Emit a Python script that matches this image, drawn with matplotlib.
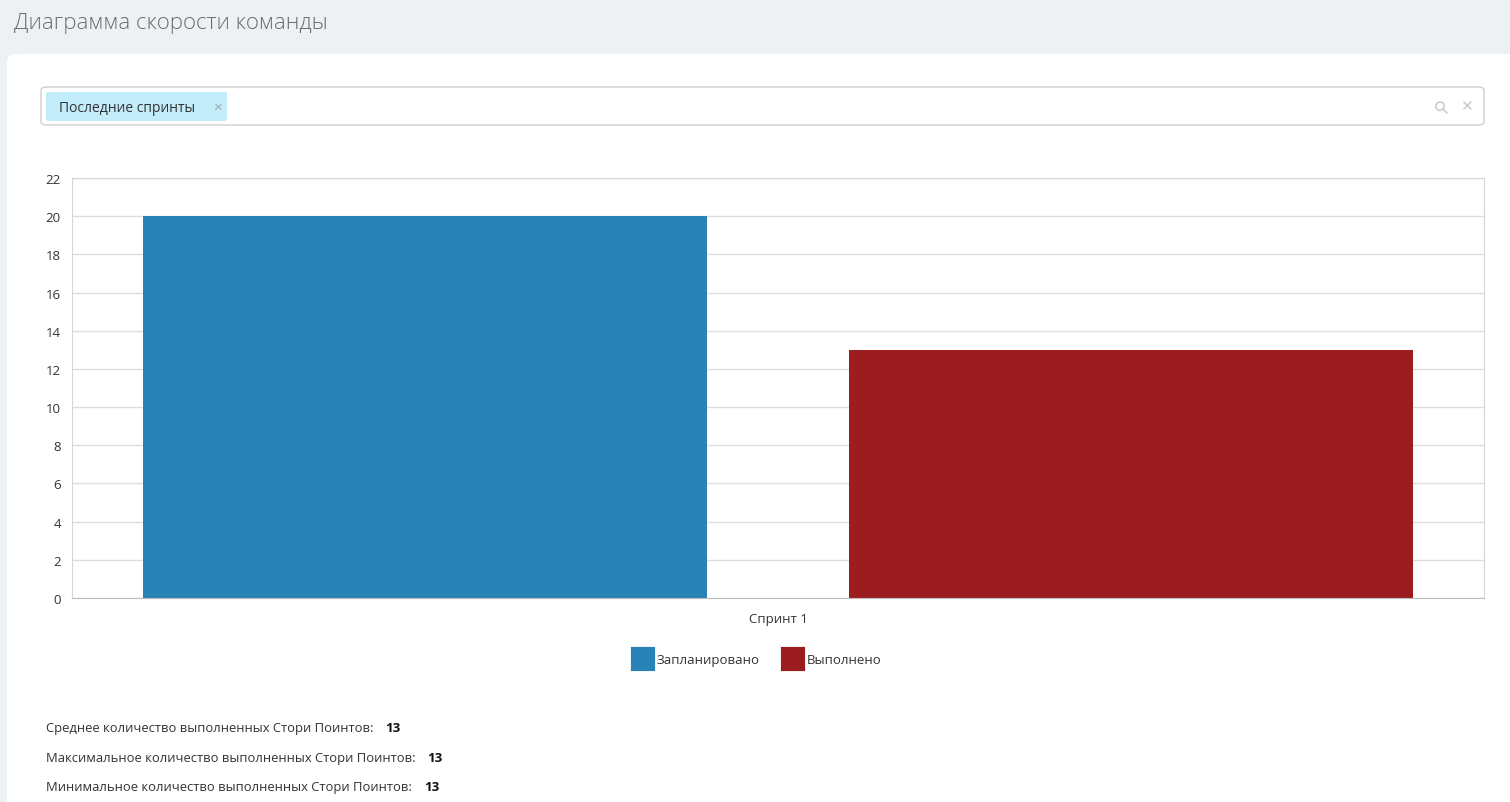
import matplotlib.pyplot as plt
from matplotlib.patches import FancyBboxPatch
from matplotlib.lines import Line2D

W, H = 1510, 803

# data
sprints = ["Спринт 1"]
planned = [20]
completed = [13]
series_names = ["Запланировано", "Выполнено"]
series_colors = ["#2a83b7", "#9c1d20"]
yticks = list(range(0, 23, 2))

title = "Диаграмма скорости команды"
filter_chip = "Последние спринты"
stat_labels = ["Среднее количество выполненных Стори Поинтов:",
               "Максимальное количество выполненных Стори Поинтов:",
               "Минимальное количество выполненных Стори Поинтов:"]

plt.rcParams['font.family'] = ['Open Sans', 'DejaVu Sans']


def fx(x):
    return x / W


def fy(y):
    return 1 - y / H


fig = plt.figure(figsize=(W / 100, H / 100), dpi=100)
fig.patch.set_facecolor("#edf1f4")

# white card
card = FancyBboxPatch((fx(7), fy(H + 20)), fx(W + 20 - 7), (H + 20 - 55) / H,
                      boxstyle="round,pad=0,rounding_size=0.008",
                      transform=fig.transFigure, facecolor="white", edgecolor="none", zorder=-2)
fig.patches.append(card)

fig.text(fx(14), fy(24), title, fontsize=16, color="#6b6b6b", fontweight="light",
         va="center", ha="left")

# filter box
box = FancyBboxPatch((fx(41), fy(126)), fx(1484 - 41), (126 - 88) / H,
                     boxstyle="round,pad=0,rounding_size=0.004",
                     transform=fig.transFigure, facecolor="white", edgecolor="#cfcfcf", lw=1, zorder=1)
fig.patches.append(box)
chip = FancyBboxPatch((fx(46), fy(122)), fx(227 - 46), (122 - 93) / H,
                      boxstyle="round,pad=0,rounding_size=0.002",
                      transform=fig.transFigure, facecolor="#c2ecf9", edgecolor="none", zorder=2)
fig.patches.append(chip)
fig.text(fx(59), fy(109), filter_chip, fontsize=10, color="#333333", va="center", ha="left", zorder=3)
fig.text(fx(217), fy(108.5), "×", fontsize=11, color="#9aa7ad", va="center", ha="center", zorder=3)
fig.text(fx(1466), fy(107), "✕", fontsize=11, color="#c8c8c8", va="center", ha="center",
         family=['DejaVu Sans'], zorder=3)
fig.text(fx(1442), fy(107), "⚲", fontsize=13, color="#c8c8c8", va="center", ha="center",
         family=['DejaVu Sans'], rotation=45, zorder=3)

# chart
ax = fig.add_axes([fx(72), fy(599), fx(1484 - 72), (599 - 179) / H])
ax.set_facecolor("white")
x = list(range(len(sprints)))
width = 0.4
ax.bar([i - 0.25 for i in x], planned, width=width, color=series_colors[0], zorder=2)
ax.bar([i + 0.25 for i in x], completed, width=width, color=series_colors[1], zorder=2)
ax.set_xlim(-0.5, len(sprints) - 0.5)
ax.set_ylim(0, 22)
ax.set_yticks(yticks)
ax.set_xticks(x)
ax.set_xticklabels(sprints)
ax.grid(axis="y", color="#dddddd", lw=1, zorder=0)
for s in ax.spines.values():
    s.set_color("#d6d6d6")
ax.spines["bottom"].set_color("#bdbdbd")
ax.tick_params(axis="both", length=0, labelsize=9.5, labelcolor="#333333")
ax.tick_params(axis="y", pad=8)
ax.tick_params(axis="x", pad=10)

# legend
handles = [Line2D([], [], marker="s", linestyle="none", markersize=14, markerfacecolor=c,
                  markeredgecolor=c, markeredgewidth=3, label=n)
           for n, c in zip(series_names, series_colors)]
leg = fig.legend(handles=handles, loc="center", bbox_to_anchor=(fx(757), fy(661)), ncol=2,
                 frameon=False, fontsize=9.5, handletextpad=0.25, columnspacing=1.7,
                 handlelength=1.6)
for t in leg.get_texts():
    t.set_color("#333333")

# stats
stats = [sum(completed) / len(completed), max(completed), min(completed)]
rows_y = [729, 759, 788]
for lab, val, yy in zip(stat_labels, stats, rows_y):
    t = fig.text(fx(46), fy(yy), lab, fontsize=9.4, color="#333333", va="center", ha="left")
    fig.canvas.draw()
    bb = t.get_window_extent()
    fig.text((bb.x1 + 12) / W, fy(yy), f"{val:g}", fontsize=9.5, color="#111111",
             fontweight="bold", va="center", ha="left")

fig.savefig("out.png", dpi=100, facecolor=fig.get_facecolor())
